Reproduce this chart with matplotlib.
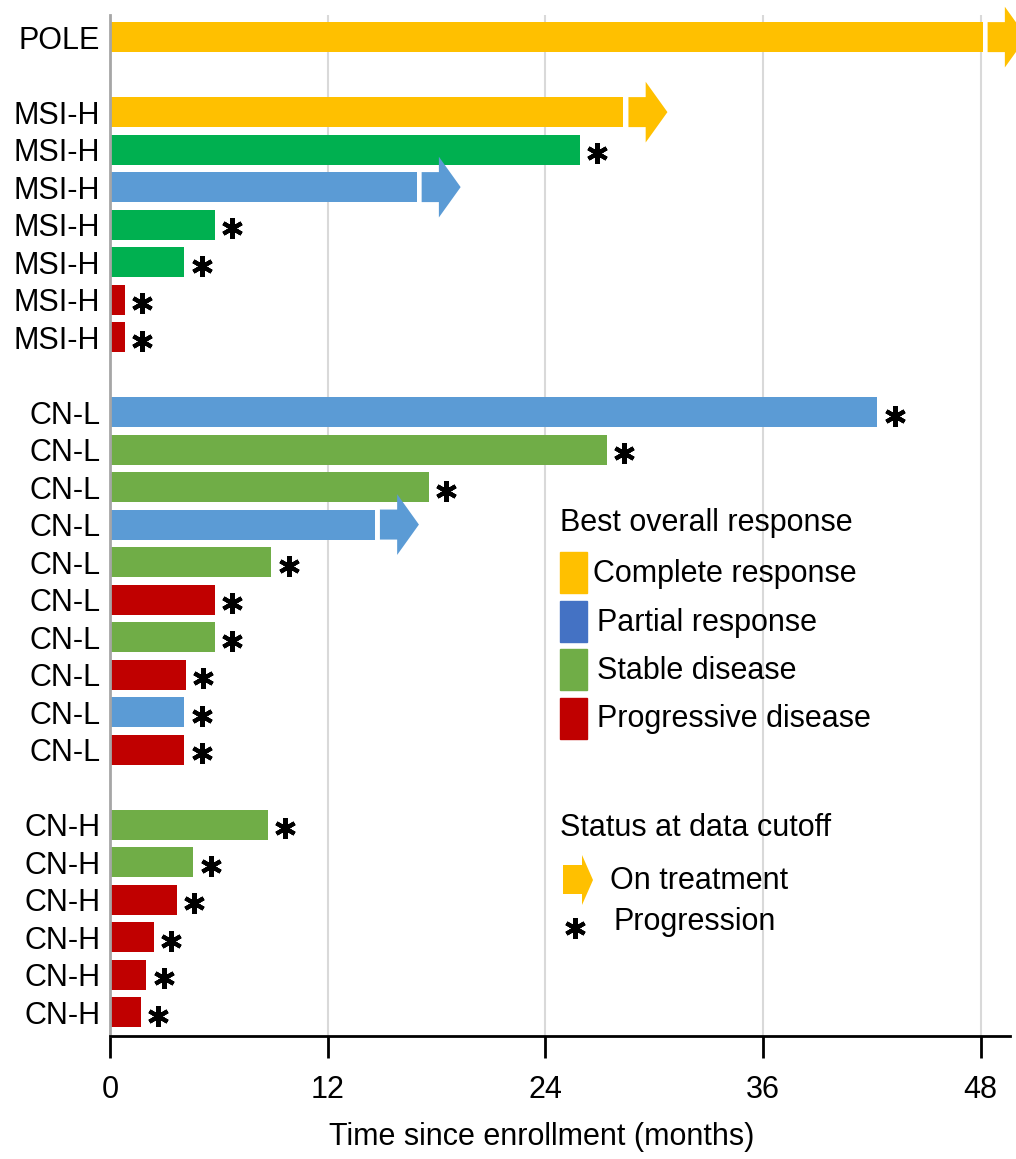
import matplotlib
matplotlib.use("Agg")
import matplotlib.pyplot as plt
from matplotlib.patches import FancyArrow, Rectangle, Polygon

plt.rcParams['font.family'] = ['Liberation Sans', 'DejaVu Sans']

# data
labels = ["POLE",
          "MSI-H", "MSI-H", "MSI-H", "MSI-H", "MSI-H", "MSI-H", "MSI-H",
          "CN-L", "CN-L", "CN-L", "CN-L", "CN-L", "CN-L", "CN-L", "CN-L", "CN-L", "CN-L",
          "CN-H", "CN-H", "CN-H", "CN-H", "CN-H", "CN-H"]
months = [48.1,
          28.3, 25.9, 16.9, 5.8, 4.1, 0.8, 0.8,
          42.3, 27.4, 17.6, 14.6, 8.9, 5.8, 5.8, 4.2, 4.1, 4.1,
          8.7, 4.6, 3.7, 2.4, 2.0, 1.7]
response = ["CR",
            "CR", "SD*", "PR", "SD*", "SD*", "PD", "PD",
            "PR", "SD", "SD", "PR", "SD", "PD", "SD", "PD", "PR", "PD",
            "SD", "SD", "PD", "PD", "PD", "PD"]
on_treatment = [True,
                True, False, True, False, False, False, False,
                False, False, False, True, False, False, False, False, False, False,
                False, False, False, False, False, False]
rows = [0, 2, 3, 4, 5, 6, 7, 8,
        10, 11, 12, 13, 14, 15, 16, 17, 18, 19,
        21, 22, 23, 24, 25, 26]

colors = {"CR": "#ffc000", "PR": "#5b9bd5", "SD": "#70ad47",
          "SD*": "#00b050", "PD": "#c00000"}
legend_names = ["Complete response", "Partial response", "Stable disease",
                "Progressive disease"]
legend_colors = ["#ffc000", "#4472c4", "#70ad47", "#c00000"]

W, H = 1016, 1159
FS = 22
fig = plt.figure(figsize=(W / 100, H / 100), dpi=100)
ax = fig.add_axes([110 / W, (H - 1036) / H, 900 / W, 1021 / H])


def px(x, y):
    return x / W, 1 - y / H


bar_h = 0.8
for r, m, resp, ot in zip(rows, months, response, on_treatment):
    ax.barh(r, m, height=bar_h, color=colors[resp], zorder=2)
    if ot:
        ax.add_patch(FancyArrow(m + 0.28, r, 2.15, 0, width=bar_h, head_width=1.62,
                                head_length=1.2, length_includes_head=True,
                                color=colors[resp], lw=0, zorder=2, clip_on=False))
    else:
        ax.plot(m + 0.95, r + 0.1, marker=(6, 2, 0), ms=15, mew=3,
                color="black", zorder=3, clip_on=False)

ax.set_xlim(0, 900 / 18.14)
ax.set_ylim(26.64, -0.59)
ax.set_yticks(rows)
ax.set_yticklabels(labels, fontsize=FS)
ax.set_xticks([0, 12, 24, 36, 48])
ax.tick_params(axis='x', labelsize=FS, length=16, width=2, pad=12, direction='out')
ax.tick_params(axis='y', length=0, pad=7)
ax.xaxis.grid(True, color="#d9d9d9", lw=1.5, zorder=0)
ax.set_axisbelow(True)
for s in ["top", "right"]:
    ax.spines[s].set_visible(False)
ax.spines["left"].set_color("#a6a6a6")
ax.spines["left"].set_linewidth(2)
ax.spines["bottom"].set_linewidth(2)

fig.text(*px(542, 1137), "Time since enrollment (months)", fontsize=FS,
         ha="center", va="center")

# legend: best overall response
fig.text(*px(560, 523), "Best overall response", fontsize=FS, va="center")
text_x = [593, 597, 597, 597]
for i, (name, c) in enumerate(zip(legend_names, legend_colors)):
    top = 552 + i * 48.5
    fx, fy = px(560, top + 41)
    fig.patches.append(Rectangle((fx, fy), 27 / W, 41 / H, color=c,
                                 transform=fig.transFigure, figure=fig))
    fig.text(*px(text_x[i], top + 22), name, fontsize=FS, va="center")

# legend: status at data cutoff
fig.text(*px(560, 828), "Status at data cutoff", fontsize=FS, va="center")
arrow_pts = [px(563, 865), px(582, 865), px(582, 855), px(593, 880),
             px(582, 905), px(582, 894), px(563, 894)]
fig.patches.append(Polygon(arrow_pts, closed=True, color="#ffc000", lw=0,
                           transform=fig.transFigure, figure=fig))
fig.text(*px(610, 881), "On treatment", fontsize=FS, va="center")
fig.lines.append(plt.Line2D([575 / W], [1 - 928 / H], marker=(6, 2, 0), ms=15,
                            mew=3, color="black", transform=fig.transFigure))
fig.text(*px(614, 922), "Progression", fontsize=FS, va="center")

fig.savefig("out.png", dpi=100)
